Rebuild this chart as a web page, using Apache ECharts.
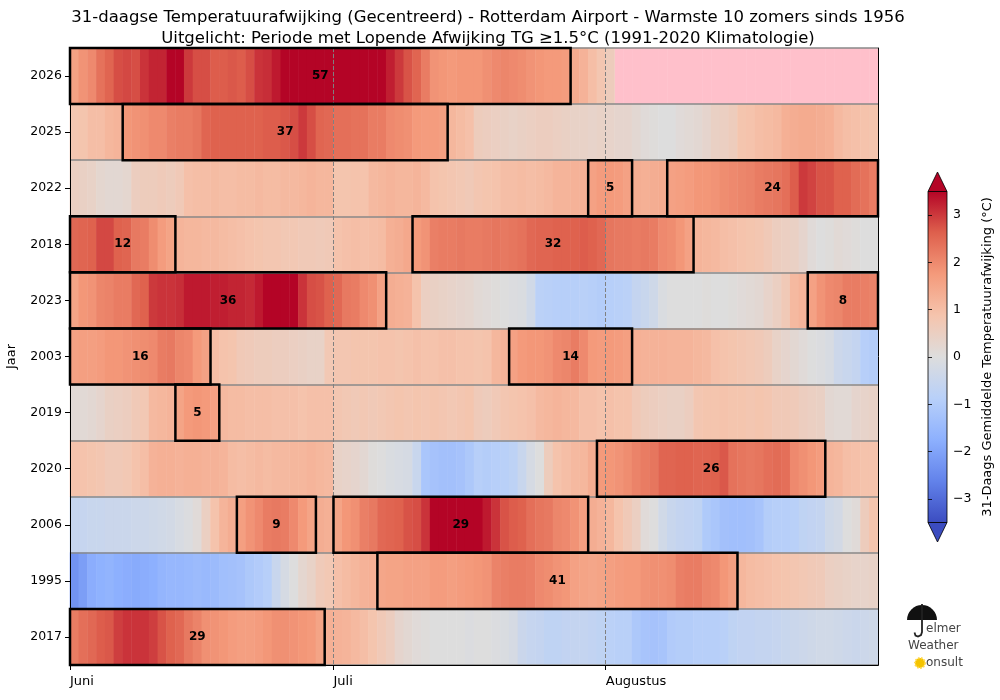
<!DOCTYPE html>
<html>
<head>
<meta charset="utf-8">
<script src="https://cdn.jsdelivr.net/npm/echarts@6/dist/echarts.min.js"></script>
<style>
html, body { margin: 0; padding: 0; background: #fff; }
#chart { width: 1000px; height: 700px; }
</style>
</head>
<body>
<div id="chart"></div>
<script>
// jaren van boven naar beneden
var years = ['2026', '2025', '2022', '2018', '2023', '2003', '2019', '2020', '2006', '1995', '2017'];
var monthTicks = [0, 30, 61];
var monthNames = ['Juni', 'Juli', 'Augustus'];
var cbTicks = [-3, -2, -1, 0, 1, 2, 3];

// 31-daagse afwijking per dag, 1 juni t/m 31 augustus
var t2026 = [1.6,1.85,2.0,2.35,2.55,2.8,2.85,2.8,3.05,3.2, 3.2,3.5,3.5,3.0,2.8,2.8,2.65,2.65,2.7,2.65,
  2.8,3.05,3.1,3.3,3.55,3.6,3.7,3.8,3.75,3.7, 3.65,3.7,3.8,3.7,3.6,3.55,3.25,3.0,2.75,2.55,
  2.2,1.85,1.8,1.75,1.8,1.8,1.8,1.9,2.0,2.05, 2.0,1.95,1.85,1.8,1.75,1.75,1.7,1.4,1.25,1.0,
  0.8,0.6,null,null,null,null,null,null,null,null, null,null,null,null,null,null,null,null,null,null,
  null,null,null,null,null,null,null,null,null,null, null,null];
var t2025 = [0.8,0.85,1.0,1.0,1.15,1.2,1.8,1.85,1.9,2.0, 2.0,2.15,2.2,2.2,2.3,2.55,2.6,2.6,2.6,2.6,
  2.6,2.6,2.65,2.65,2.7,2.8,3.0,2.8,2.55,2.5, 2.4,2.4,2.35,2.35,2.2,2.2,2.0,1.95,1.9,1.75,
  1.7,1.7,1.65,1.15,1.05,0.95,0.6,0.55,0.5,0.45, 0.4,0.45,0.5,0.55,0.55,0.5,0.45,0.4,0.4,0.35,
  0.4,0.35,0.3,0.3,0.2,0.1,0.05,0.0,0.0,0.1, 0.15,0.2,0.3,0.45,0.5,0.6,0.85,0.9,1.0,1.05,
  1.1,1.3,1.35,1.4,1.4,1.35,1.3,1.1,1.0,0.95, 0.9,0.85];
var t2022 = [0.5,0.45,0.4,0.25,0.2,0.2,0.25,0.55,0.6,0.6, 0.65,0.6,0.7,0.95,1.0,1.0,1.05,1.0,1.0,1.05,
  1.05,1.1,1.05,1.05,1.1,1.1,1.15,1.2,1.15,1.15, 0.85,0.85,0.9,0.9,1.1,1.15,1.2,1.15,1.15,1.2,
  1.1,0.9,0.85,0.8,0.75,0.7,0.8,0.85,0.9,1.0, 1.0,1.05,1.0,1.05,1.1,1.2,1.2,1.25,1.3,1.6,
  1.7,1.75,1.7,1.6,1.35,1.3,1.35,1.4,1.6,1.65, 1.7,1.8,1.8,1.85,1.95,2.0,2.05,2.1,2.2,2.25,
  2.3,2.4,2.65,3.0,2.9,2.75,2.75,2.6,2.6,2.45, 2.35,2.2];
var t2018 = [2.5,2.55,2.6,2.85,2.85,2.6,2.55,2.25,2.2,1.95, 1.7,1.55,1.2,1.15,1.15,1.1,1.1,1.05,1.0,0.95,
  0.9,0.85,0.8,0.8,0.75,0.75,0.7,0.7,0.65,0.7, 0.9,0.95,1.0,0.95,1.0,1.05,1.3,1.35,1.45,1.75,
  1.85,2.15,2.2,2.2,2.25,2.2,2.2,2.25,2.3,2.25, 2.3,2.35,2.5,2.55,2.55,2.6,2.6,2.6,2.65,2.6,
  2.5,2.3,2.25,2.25,2.2,2.25,2.2,2.0,1.95,1.8, 1.6,1.2,1.15,1.1,1.0,0.95,0.9,0.85,0.8,0.7,
  0.55,0.5,0.45,0.3,0.1,0.0,0.05,0.15,0.1,0.05, 0.0,0.0];
var t2023 = [1.55,1.8,1.85,2.05,2.1,2.2,2.2,2.5,2.6,3.0, 3.05,3.05,3.1,3.3,3.3,3.3,3.25,3.25,3.2,3.2,
  3.15,3.3,3.55,3.6,3.6,3.55,3.05,2.8,2.75,2.6, 2.5,2.25,2.2,2.0,1.9,1.6,1.35,1.3,1.25,0.9,
  0.5,0.45,0.4,0.35,0.3,0.25,0.15,0.1,0.05,0.0, -0.05,-0.1,-0.3,-0.8,-0.85,-0.9,-0.9,-0.9,-0.85,-0.9,
  -0.95,-0.9,-0.85,-0.8,-0.6,-0.5,-0.35,-0.1,0.0,0.0, 0.0,0.0,0.05,0.0,0.0,0.05,0.1,0.15,0.2,0.35,
  0.5,0.7,1.1,1.2,1.6,1.85,2.0,2.05,2.2,2.2, 2.15,2.1];
var t2003 = [1.6,1.65,1.65,1.7,1.8,1.8,1.85,1.9,1.95,2.0, 2.2,2.25,2.05,2.0,1.75,1.6,1.0,0.9,0.85,0.7,
  0.65,0.6,0.6,0.55,0.55,0.5,0.45,0.4,0.4,0.75, 0.8,0.8,0.85,0.85,0.85,0.9,0.9,0.85,0.9,0.95,
  0.9,0.9,0.95,0.95,0.9,0.9,0.85,0.9,1.15,1.2, 1.6,1.75,1.8,1.8,1.85,2.0,2.05,2.2,2.0,1.75,
  1.7,1.75,1.7,1.65,1.3,1.25,1.25,1.25,1.2,1.2, 1.2,1.15,1.1,0.95,0.9,0.85,0.8,0.75,0.7,0.6,
  0.4,0.3,0.2,0.1,0.0,-0.05,-0.15,-0.4,-0.5,-0.6, -0.9,-0.95];
var t2019 = [0.15,0.15,0.2,0.3,0.45,0.5,0.55,0.7,0.75,1.1, 1.15,1.2,1.55,1.75,1.8,1.75,1.6,1.1,1.05,1.05,
  1.0,1.0,1.0,0.95,0.95,0.95,0.9,0.95,0.95,0.95, 0.8,0.75,0.7,0.75,0.7,0.75,0.8,0.85,0.8,0.85,
  0.8,0.85,0.8,0.75,0.8,0.85,0.65,0.6,0.7,0.8, 0.85,0.9,0.95,1.1,1.15,1.2,1.15,1.1,0.95,0.95,
  0.9,0.95,0.9,0.9,0.7,0.6,0.55,0.5,0.45,0.45, 0.55,0.8,0.85,0.85,0.9,0.85,0.85,0.8,0.85,0.8,
  0.7,0.7,0.65,0.55,0.5,0.45,0.2,0.15,0.15,0.3, 0.35,0.4];
var t2020 = [0.9,0.9,0.85,0.8,0.7,0.7,0.75,0.9,1.0,1.25, 1.3,1.3,1.25,1.3,1.3,1.25,1.25,1.2,1.05,1.0,
  1.05,1.1,1.05,1.1,1.1,1.15,1.15,1.2,1.15,1.1, 0.4,0.35,0.3,0.2,0.05,0.0,-0.1,-0.15,-0.2,-0.5,
  -1.15,-1.25,-1.3,-1.3,-1.25,-1.1,-0.9,-0.95,-0.9,-0.85, -0.75,-0.5,-0.2,0.0,0.6,0.9,1.0,1.1,1.15,1.35,
  1.75,1.8,1.85,1.95,2.1,2.2,2.3,2.55,2.55,2.6, 2.6,2.55,2.55,2.6,2.7,2.35,2.3,2.25,2.3,2.4,
  2.45,2.4,2.0,1.9,1.8,1.7,1.2,1.15,1.0,0.95, 0.9,0.9];
var t2006 = [-0.55,-0.55,-0.5,-0.5,-0.45,-0.45,-0.45,-0.4,-0.4,-0.35, -0.3,-0.25,-0.15,-0.05,0.1,0.5,0.9,1.2,1.35,1.65,
  1.85,2.0,2.2,2.25,2.2,2.0,1.75,1.55,1.35,1.3, 1.55,1.8,1.9,2.15,2.25,2.5,2.55,2.6,2.75,2.8,
  3.05,3.6,3.7,3.75,3.7,3.6,3.5,3.3,3.05,2.75, 2.65,2.6,2.4,2.3,2.25,2.05,2.0,1.85,1.65,1.35,
  1.25,1.15,0.9,0.7,0.5,0.1,0.0,-0.3,-0.5,-0.6, -0.65,-0.7,-1.05,-1.15,-1.3,-1.35,-1.35,-1.3,-1.2,-0.95,
  -0.9,-0.9,-0.85,-0.7,-0.65,-0.6,-0.35,-0.25,0.0,0.1, 0.6,0.85];
var t1995 = [-2.3,-2.1,-1.8,-1.7,-1.65,-1.75,-1.8,-1.85,-1.8,-1.75, -1.6,-1.55,-1.55,-1.5,-1.45,-1.5,-1.45,-1.35,-1.3,-1.25,
  -1.1,-1.0,-0.9,-0.5,-0.2,0.0,0.25,0.4,0.65,0.75, 0.95,1.05,1.15,1.25,1.3,1.5,1.55,1.55,1.6,1.6,
  1.6,1.7,1.7,1.65,1.7,1.75,1.8,1.85,2.1,2.15, 2.2,2.2,2.15,2.0,1.95,1.85,1.8,1.6,1.55,1.5,
  1.55,1.65,1.7,1.75,1.75,1.85,1.9,1.9,1.95,2.15, 2.2,2.2,2.05,2.0,1.8,1.65,1.15,1.05,1.0,0.95,
  0.9,0.85,0.8,0.75,0.7,0.65,0.5,0.45,0.4,0.35, 0.35,0.4];
var t2017 = [2.2,2.4,2.5,2.65,2.7,2.95,3.05,3.05,3.05,2.95, 2.75,2.6,2.5,2.25,2.1,1.9,1.85,1.8,1.7,1.65,
  1.65,1.7,1.8,1.9,1.9,1.85,1.8,1.75,1.55,1.3, 1.25,1.2,1.1,1.0,0.85,0.7,0.55,0.3,0.2,0.1,
  0.05,0.0,0.0,0.0,0.0,-0.05,0.0,0.0,-0.05,-0.1, -0.2,-0.45,-0.55,-0.6,-0.7,-0.7,-0.65,-0.6,-0.6,-0.65,
  -0.7,-0.8,-0.85,-0.85,-1.1,-1.2,-1.25,-1.2,-1.0,-0.95, -0.95,-0.9,-0.9,-0.9,-0.85,-0.7,-0.65,-0.65,-0.6,-0.6,
  -0.55,-0.5,-0.45,-0.4,-0.35,-0.3,-0.3,-0.35,-0.4,-0.45, -0.4,-0.35];

var rows = [t2026, t2025, t2022, t2018, t2023, t2003, t2019, t2020, t2006, t1995, t2017];

// perioden met lopende afwijking >= 1.5: [jaar, startdag, lengte]
var periods = [
  ['2026', 0, 57], ['2025', 6, 37], ['2022', 59, 5], ['2022', 68, 24],
  ['2018', 0, 12], ['2018', 39, 32], ['2023', 0, 36], ['2023', 84, 8],
  ['2003', 0, 16], ['2003', 50, 14], ['2019', 12, 5], ['2020', 60, 26],
  ['2006', 19, 9], ['2006', 30, 29], ['1995', 35, 41], ['2017', 0, 29]
];

var coolwarm = ['#3b4cc0', '#6282ea', '#8db0fe', '#b8d0f9', '#dddddd', '#f5c4ad', '#f49a7b', '#de604d', '#b40426'];

var days = [];
for (var i = 0; i < 92; i++) days.push(String(i));

var heat = [], missing = [];
rows.forEach(function (vals, r) {
  vals.forEach(function (v, d) {
    if (v === null) missing.push([d, r]);
    else heat.push([d, r, v]);
  });
});

var boxData = periods.map(function (p) {
  return [p[1], years.indexOf(p[0]), p[2]];
});

var cbStops = coolwarm.map(function (c, i) {
  return { offset: i / (coolwarm.length - 1), color: c };
});

var chart = echarts.init(document.getElementById('chart'));
var font = 'DejaVu Sans';

var option = {
  animation: false,
  backgroundColor: '#fff',
  title: {
    text: '31-daagse Temperatuurafwijking (Gecentreerd) - Rotterdam Airport - Warmste 10 zomers sinds 1956\nUitgelicht: Periode met Lopende Afwijking TG \u22651.5\u00b0C (1991-2020 Klimatologie)',
    left: 483,
    top: 2,
    textAlign: 'center',
    textStyle: { fontFamily: font, fontSize: 16.5, fontWeight: 'normal', color: '#000', lineHeight: 21 }
  },
  grid: [
    { left: 70, top: 48, width: 808, height: 617, containLabel: false, outerBoundsMode: 'none' },
    {
      left: 928, top: 191.5, width: 19, height: 331, show: true,
      containLabel: false, outerBoundsMode: 'none',
      backgroundColor: { type: 'linear', x: 0, y: 1, x2: 0, y2: 0, colorStops: cbStops },
      borderColor: '#000', borderWidth: 0.8
    }
  ],
  visualMap: {
    type: 'continuous', show: false, seriesIndex: 1,
    min: -3.5, max: 3.5, inRange: { color: coolwarm }
  },
  xAxis: [
    {
      type: 'category', gridIndex: 0, data: days, position: 'top', boundaryGap: true,
      axisLine: { show: true, lineStyle: { color: '#000', width: 1 } },
      axisTick: { show: false }, axisLabel: { show: false }, splitLine: { show: false }, z: 6
    },
    {
      type: 'value', gridIndex: 0, min: 0, max: 92, position: 'bottom',
      axisLine: { show: true, lineStyle: { color: '#000', width: 1 } },
      axisTick: { show: true, customValues: monthTicks, length: 5, lineStyle: { color: '#000' } },
      axisLabel: {
        customValues: monthTicks, align: 'left', margin: 10,
        fontFamily: font, fontSize: 13, color: '#000',
        formatter: function (v) { return monthNames[monthTicks.indexOf(v)]; }
      },
      splitLine: { show: false }, z: 6
    },
    { type: 'value', gridIndex: 1, show: false, min: 0, max: 1 }
  ],
  yAxis: [
    {
      type: 'category', gridIndex: 0, data: years, inverse: true,
      axisLine: { show: true, lineStyle: { color: '#000', width: 1 } },
      axisTick: { show: true, alignWithLabel: true, length: 5, lineStyle: { color: '#000' } },
      axisLabel: { fontFamily: font, fontSize: 12.5, color: '#000', margin: 8 },
      splitLine: { show: true, interval: 0, lineStyle: { color: '#888', width: 1.5 } },
      name: 'Jaar', nameLocation: 'middle', nameRotate: 90, nameGap: 52,
      nameTextStyle: { fontFamily: font, fontSize: 13, color: '#000' },
      z: 6
    },
    {
      type: 'value', gridIndex: 0, position: 'right', min: 0, max: 1,
      axisLine: { show: true, lineStyle: { color: '#000', width: 1 } },
      axisTick: { show: false }, axisLabel: { show: false }, splitLine: { show: false }, z: 6
    },
    {
      type: 'value', gridIndex: 1, min: -3.5, max: 3.5, position: 'right',
      axisLine: { show: false },
      axisTick: { show: true, customValues: cbTicks, length: 4, lineStyle: { color: '#000', width: 0.8 } },
      axisLabel: {
        customValues: cbTicks, margin: 6, fontFamily: font, fontSize: 12.5, color: '#000',
        formatter: function (v) { return v < 0 ? '\u2212' + Math.abs(v) : String(v); }
      },
      splitLine: { show: false },
      name: '31-Daags Gemiddelde Temperatuurafwijking (\u00b0C)',
      nameLocation: 'middle', nameRotate: 90, nameGap: 34,
      nameTextStyle: { fontFamily: font, fontSize: 13, color: '#000' }
    }
  ],
  series: [
    {
      type: 'custom', name: 'geen data', xAxisIndex: 0, yAxisIndex: 0, z: 1, silent: true,
      data: missing,
      renderItem: function (params, api) {
        var c = api.coord([api.value(0), api.value(1)]);
        var s = api.size([1, 1]);
        return {
          type: 'rect',
          shape: { x: c[0] - s[0] / 2, y: c[1] - s[1] / 2, width: s[0] + 0.5, height: s[1] },
          style: { fill: '#ffc0cb' }
        };
      }
    },
    {
      type: 'heatmap', xAxisIndex: 0, yAxisIndex: 0, z: 2, silent: true,
      data: heat,
      itemStyle: { borderWidth: 0 },
      emphasis: { disabled: true }
    },
    {
      type: 'custom', name: 'perioden', xAxisIndex: 1, yAxisIndex: 0, z: 10, silent: true, clip: false,
      data: boxData,
      renderItem: function (params, api) {
        var start = api.value(0), row = api.value(1), len = api.value(2);
        var p0 = api.coord([start, row]);
        var p1 = api.coord([start + len, row]);
        var h = api.size([0, 1], [start, row])[1];
        return {
          type: 'group',
          children: [
            {
              type: 'rect',
              shape: { x: p0[0], y: p0[1] - h / 2, width: p1[0] - p0[0], height: h },
              style: { fill: 'none', stroke: '#000', lineWidth: 2.5 }
            },
            {
              type: 'text',
              style: {
                text: String(len), x: (p0[0] + p1[0]) / 2, y: p0[1],
                align: 'center', verticalAlign: 'middle',
                font: 'bold 12px "DejaVu Sans"', fill: '#000'
              }
            }
          ]
        };
      },
      markLine: {
        silent: true, symbol: 'none', z: 8,
        label: { show: false },
        lineStyle: { color: '#808080', type: 'dashed', width: 1 },
        data: monthTicks.slice(1).map(function (d) { return { xAxis: d }; })
      }
    }
  ],
  graphic: [
    {
      type: 'polygon', z: 20,
      shape: { points: [[928, 191.5], [947, 191.5], [937.5, 172]] },
      style: { fill: '#b40426', stroke: '#000', lineWidth: 0.8 }
    },
    {
      type: 'polygon', z: 20,
      shape: { points: [[928, 522.5], [947, 522.5], [937.5, 542]] },
      style: { fill: '#3b4cc0', stroke: '#000', lineWidth: 0.8 }
    },
    // logo
    {
      type: 'sector', z: 20,
      shape: { cx: 922, cy: 620, r0: 0, r: 15, startAngle: Math.PI, endAngle: 2 * Math.PI },
      style: { fill: '#111' }
    },
    {
      type: 'polyline', z: 20,
      shape: { points: [[922, 604], [922, 632], [921, 635], [918, 636.5], [915.5, 635.5], [914.5, 632.5]] },
      style: { fill: 'none', stroke: '#222', lineWidth: 1.8 }
    },
    {
      type: 'text', z: 20, left: 926, top: 623,
      style: { text: 'elmer', font: '12px "DejaVu Sans"', fill: '#444' }
    },
    {
      type: 'text', z: 20, left: 908, top: 640,
      style: { text: 'Weather', font: '12px "DejaVu Sans"', fill: '#444' }
    },
    {
      type: 'circle', z: 20,
      shape: { cx: 920, cy: 663, r: 5 },
      style: { fill: '#f5c400', stroke: '#ffd84d', lineWidth: 2, lineDash: [1.5, 1.5] }
    },
    {
      type: 'text', z: 21, left: 926, top: 657,
      style: { text: 'onsult', font: '12px "DejaVu Sans"', fill: '#444' }
    }
  ]
};

chart.setOption(option);
</script>
</body>
</html>
